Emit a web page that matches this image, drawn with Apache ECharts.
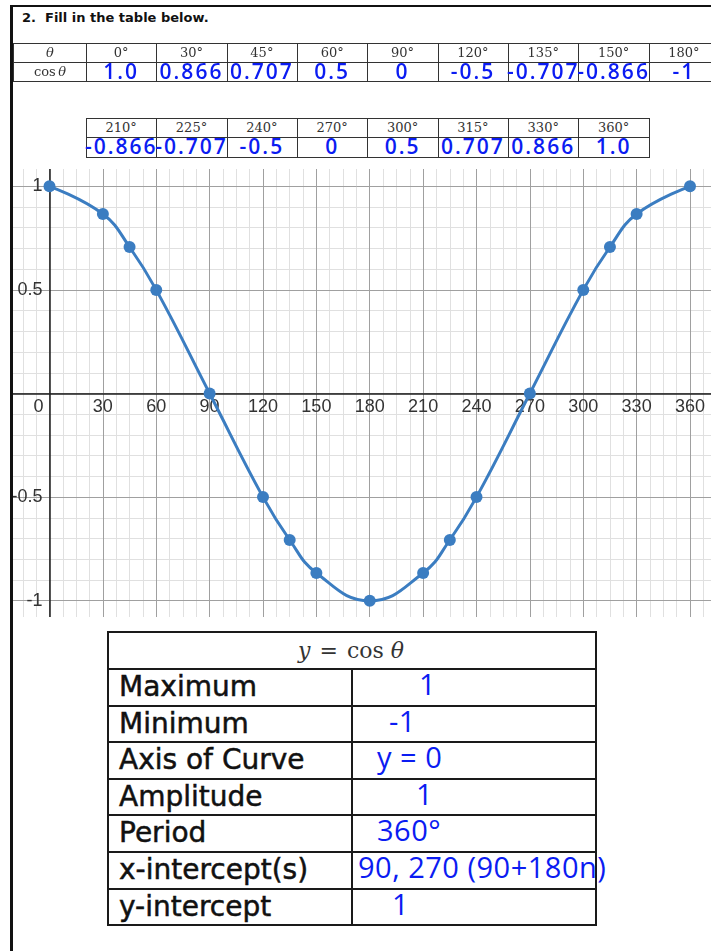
<!DOCTYPE html>
<html>
<head>
<meta charset="utf-8">
<title>y = cos θ</title>
<script src="https://cdn.jsdelivr.net/npm/echarts@6/dist/echarts.min.js"></script>
<style>
  html, body { margin: 0; padding: 0; background: #fff; }
  #page { position: relative; width: 711px; height: 951px; overflow: hidden; background: #fff; }
  .abs { position: absolute; }
  .hdr { font-family: "DejaVu Serif", "Liberation Serif", serif; font-size: 13px; color: #333; }
  .ink { font-family: "Open Sans", "Noto Sans", sans-serif; font-weight: 600; font-size: 21px; color: #0b1cf2; letter-spacing: 2px; }
  .ink2 { font-family: "Open Sans", "Noto Sans", sans-serif; font-weight: 400; font-size: 29px; color: #0b1cf2; letter-spacing: 0.5px; }
  .prop { font-family: "DejaVu Sans", sans-serif; font-size: 28px; color: #111; -webkit-text-stroke: 0.5px #111; }
  .eq { font-family: "DejaVu Serif", "Liberation Serif", serif; font-size: 22px; color: #333; }
  #plotClip { position: absolute; left: 12px; top: 169px; width: 699px; height: 448px; overflow: hidden; }
  #chart { position: absolute; left: -22px; top: -99px; width: 750px; height: 660px; }
</style>
</head>
<body>
<div id="page">
  <div id="plotClip"><div id="chart"></div></div>
</div>
<script>
// Angles (degrees) and the cosine values written in the table
const angles = [0, 30, 45, 60, 90, 120, 135, 150, 180, 210, 225, 240, 270, 300, 315, 330, 360];
const cosText = ['1.0', '0.866', '0.707', '0.5', '0', '-0.5', '-0.707', '-0.866', '-1',
                 '-0.866', '-0.707', '-0.5', '0', '0.5', '0.707', '0.866', '1.0'];
const cosValues = cosText.map(Number);

// Tick labels on the graph
const xTickLabels = [0, 30, 60, 90, 120, 150, 180, 210, 240, 270, 300, 330, 360];
const yTickLabels = [-1, -0.5, 0.5, 1];

// Properties of y = cos θ
const propertyNames = ['Maximum', 'Minimum', 'Axis of Curve', 'Amplitude', 'Period', 'x-intercept(s)', 'y-intercept'];
const propertyAnswers = ['1', '-1', 'y = 0', '1', '360°', '90, 270 (90+180n)', '1'];

// ---------- worksheet layout ----------
const page = document.getElementById('page');
function add(css, html, cls) {
  const d = document.createElement('div');
  d.className = 'abs' + (cls ? ' ' + cls : '');
  d.style.cssText += css;
  if (html != null) d.innerHTML = html;
  page.appendChild(d);
  return d;
}
function hline(x, y, w, t, c) { add(`left:${x}px;top:${y}px;width:${w}px;height:${t}px;background:${c};z-index:5;`); }
function vline(x, y, h, t, c) { add(`left:${x}px;top:${y}px;width:${t}px;height:${h}px;background:${c};z-index:5;`); }
function centered(cx, top, h, html, cls) {
  add(`left:${cx - 70}px;top:${top}px;width:140px;height:${h}px;line-height:${h}px;text-align:center;white-space:nowrap;z-index:6;`, html, cls);
}

// page frame
hline(10, 5, 701, 2, '#111');
vline(10, 5, 946, 3, '#111');

// heading
add('left:22px;top:10px;font:bold 13px "DejaVu Sans",sans-serif;color:#111;white-space:nowrap;z-index:6;',
    '2.&nbsp; Fill in the table below.');

// value tables
const colW = 70.35, col0 = 86, rowH = 19;
const split = 9;
const lineC = '#333';

// first table: θ column + 0°..180°
const t1 = 43;
[t1, t1 + rowH, t1 + 2 * rowH].forEach(y => hline(13, y, 700, 1, lineC));
vline(13, t1, 2 * rowH, 1, lineC);
for (let i = 0; i <= split; i++) vline(Math.round(col0 + i * colW), t1, 2 * rowH, 1, lineC);
centered(50, t1, rowH, '<i>θ</i>', 'hdr');
centered(50, t1 + rowH, rowH, 'cos&thinsp;<i>θ</i>', 'hdr');
for (let i = 0; i < split; i++) {
  const cx = col0 + (i + 0.5) * colW;
  centered(cx, t1, rowH, angles[i] + '°', 'hdr');
  centered(cx, t1 + rowH - 0.5, rowH, cosText[i], 'ink');
}

// second table: 210°..360°
const t2 = 118;
const n2 = angles.length - split;
[t2, t2 + rowH, t2 + 2 * rowH + 1].forEach(y => hline(col0, y, Math.round(n2 * colW) + 1, 1, lineC));
for (let j = 0; j <= n2; j++) vline(Math.round(col0 + j * colW), t2, 2 * rowH + 1, 1, lineC);
for (let j = 0; j < n2; j++) {
  const cx = col0 + (j + 0.5) * colW;
  centered(cx, t2, rowH, angles[split + j] + '°', 'hdr');
  centered(cx, t2 + rowH, rowH, cosText[split + j], 'ink');
}

// properties table
const bL = 107, bR = 595, bMid = 351, bTop = 631, bHead = 668, bRow = 36.6;
const bBottom = bHead + propertyNames.length * bRow;
const bc = '#1a1a1a';
hline(bL, bTop, bR - bL + 2, 2, bc);
hline(bL, bHead, bR - bL + 2, 2, bc);
for (let r = 1; r <= propertyNames.length; r++) hline(bL, Math.round(bHead + r * bRow), bR - bL + 2, 2, bc);
vline(bL, bTop, bBottom - bTop + 2, 2, bc);
vline(bR, bTop, bBottom - bTop + 2, 2, bc);
vline(bMid, bHead, bBottom - bHead, 2, bc);
add(`left:${bL}px;top:${bTop + 1}px;width:${bR - bL}px;height:${bHead - bTop}px;line-height:${bHead - bTop}px;text-align:center;white-space:nowrap;z-index:6;`,
    '<i>y</i><span style="margin:0 9px">=</span>cos&nbsp;<i>θ</i>', 'eq');
const answerIndent = [68, 38, 26, 65, 26, 7, 41];
propertyNames.forEach((name, r) => {
  const top = bHead + r * bRow + 1;
  add(`left:${bL + 12}px;top:${top}px;height:${bRow}px;line-height:${bRow}px;white-space:nowrap;z-index:6;`, name, 'prop');
  add(`left:${bMid + answerIndent[r]}px;top:${top - 3}px;height:${bRow}px;line-height:${bRow}px;white-space:nowrap;z-index:6;`,
      propertyAnswers[r], 'ink2');
});

// ---------- graph of y = cos θ ----------
// Plot scale: x from -30° to 375°, y from -1.5 to 1.5.
// grid 0 holds the graph paper and the curve; grid 1 has its left edge on θ = 0
// and carries the vertical axis; grid 2 has its bottom edge on y = 0 and carries
// the horizontal axis.
const chart = echarts.init(document.getElementById('chart'), null, { renderer: 'canvas' });
const pxPerDeg = 720.56 / 405;
const pxPerUnit = 621.6 / 3;
const plotLeft = 6.125, plotTop = 12.7, plotW = 720.56, plotH = 621.6;
const zeroX = plotLeft + 30 * pxPerDeg;
const zeroY = plotTop + 1.5 * pxPerUnit;

const labelFont = { fontSize: 18, fontFamily: '"Liberation Sans", Arial, sans-serif', color: '#333' };
const axisInk = { show: true, onZero: false, lineStyle: { color: '#1e1e1e', width: 1.5 } };
const minorLine = { show: true, lineStyle: { color: '#e0e0e0', width: 1 } };
const majorLine = { show: true, lineStyle: { color: '#a0a0a0', width: 1 } };
const hidden = { axisLine: { show: false }, axisTick: { show: false }, axisLabel: { show: false }, splitLine: { show: false } };
const curveBlue = '#3b7dc1';

chart.setOption({
  animation: false,
  grid: [
    { left: plotLeft, top: plotTop, width: plotW, height: plotH, containLabel: false, outerBoundsMode: 'none' },
    { left: zeroX, top: plotTop, width: plotLeft + plotW - zeroX, height: plotH, containLabel: false, outerBoundsMode: 'none' },
    { left: plotLeft, top: plotTop, width: plotW, height: zeroY - plotTop, containLabel: false, outerBoundsMode: 'none' }
  ],
  xAxis: [
    Object.assign({ gridIndex: 0, type: 'value', min: -30, max: 375, interval: 7.5, position: 'top', z: 0 }, hidden, { splitLine: minorLine }),
    Object.assign({ gridIndex: 0, type: 'value', min: -30, max: 375, interval: 30, position: 'bottom', z: 1 }, hidden, { splitLine: majorLine }),
    Object.assign({ gridIndex: 1, type: 'value', min: 0, max: 1 }, hidden),
    {
      gridIndex: 2, type: 'value', min: -30, max: 375, interval: 30, position: 'bottom', z: 2,
      axisLine: axisInk, axisTick: { show: false }, splitLine: { show: false },
      axisLabel: Object.assign({}, labelFont, {
        margin: 5,
        formatter: v => v === 0 ? '{z|0}' : (xTickLabels.includes(v) ? String(v) : ''),
        rich: { z: Object.assign({}, labelFont, { padding: [0, 22, 0, 0] }) }
      })
    }
  ],
  yAxis: [
    Object.assign({ gridIndex: 0, type: 'value', min: -1.5, max: 1.5, interval: 0.1, position: 'right', z: 0 }, hidden, { splitLine: minorLine }),
    Object.assign({ gridIndex: 0, type: 'value', min: -1.5, max: 1.5, interval: 0.5, position: 'left', z: 1 }, hidden, { splitLine: majorLine }),
    {
      gridIndex: 1, type: 'value', min: -1.5, max: 1.5, interval: 0.5, position: 'left', z: 2,
      axisLine: axisInk, axisTick: { show: false }, splitLine: { show: false },
      axisLabel: Object.assign({}, labelFont, {
        margin: 7,
        formatter: v => yTickLabels.includes(v) ? String(v) : ''
      })
    },
    Object.assign({ gridIndex: 2, type: 'value', min: 0, max: 1.5 }, hidden)
  ],
  series: [{
    type: 'line',
    xAxisIndex: 1,
    yAxisIndex: 1,
    data: angles.map((a, i) => [a, cosValues[i]]),
    smooth: 0.45,
    symbol: 'circle',
    symbolSize: 12,
    showAllSymbol: true,
    clip: false,
    z: 3,
    lineStyle: { color: curveBlue, width: 3 },
    itemStyle: { color: curveBlue }
  }]
});
</script>
</body>
</html>
